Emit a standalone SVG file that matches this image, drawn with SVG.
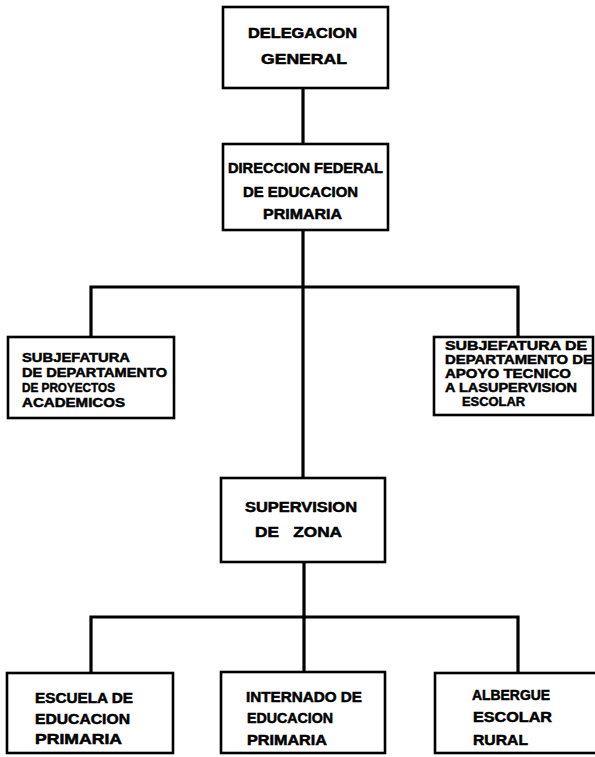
<svg xmlns="http://www.w3.org/2000/svg" width="595" height="757" viewBox="0 0 595 757">
<style>
.box{fill:#fff;stroke:#000;stroke-width:2.6}
.ln{fill:none;stroke:#000;stroke-width:3.2;stroke-linecap:square}
text{font-family:"Liberation Sans",Arial,sans-serif;font-weight:bold;font-size:14px;fill:#000;stroke:#000;stroke-width:0.5}
.sm{font-size:12px;stroke-width:0.45}
</style>
<rect width="595" height="757" fill="#fff"/>
<g id="connectors">
<path class="ln" d="M303,88 V144"/>
<path class="ln" d="M303,230 V478"/>
<path class="ln" d="M91,337 V287 H518 V337"/>
<path class="ln" d="M304,562 V672"/>
<path class="ln" d="M91,673 V617 H518 V673"/>
</g>
<g id="delegacion">
<rect class="box" x="223" y="7" width="165" height="81"/>
<text x="248" y="38" textLength="109" lengthAdjust="spacingAndGlyphs">DELEGACION</text>
<text x="261" y="64" textLength="86" lengthAdjust="spacingAndGlyphs">GENERAL</text>
</g>
<g id="direccion">
<rect class="box" x="223" y="144" width="165" height="86"/>
<text x="228" y="173" textLength="155" lengthAdjust="spacingAndGlyphs">DIRECCION FEDERAL</text>
<text x="243" y="197" textLength="115" lengthAdjust="spacingAndGlyphs">DE EDUCACION</text>
<text x="263" y="219" textLength="79" lengthAdjust="spacingAndGlyphs">PRIMARIA</text>
</g>
<g id="subjefatura-proyectos">
<rect class="box" x="8" y="337" width="166" height="81"/>
<text class="sm" x="22" y="362" textLength="108" lengthAdjust="spacingAndGlyphs">SUBJEFATURA</text>
<text class="sm" x="22" y="377" textLength="145" lengthAdjust="spacingAndGlyphs">DE DEPARTAMENTO</text>
<text class="sm" x="22" y="392" textLength="93" lengthAdjust="spacingAndGlyphs">DE PROYECTOS</text>
<text class="sm" x="22" y="407" textLength="103" lengthAdjust="spacingAndGlyphs">ACADEMICOS</text>
</g>
<g id="subjefatura-apoyo">
<rect class="box" x="434" y="337" width="159" height="78"/>
<text class="sm" x="445" y="350" textLength="142" lengthAdjust="spacingAndGlyphs">SUBJEFATURA DE</text>
<text class="sm" x="445" y="364" textLength="148" lengthAdjust="spacingAndGlyphs">DEPARTAMENTO DE</text>
<text class="sm" x="445" y="378" textLength="126" lengthAdjust="spacingAndGlyphs">APOYO TECNICO</text>
<text class="sm" x="445" y="392" textLength="132" lengthAdjust="spacingAndGlyphs">A LASUPERVISION</text>
<text class="sm" x="462" y="406" textLength="63" lengthAdjust="spacingAndGlyphs">ESCOLAR</text>
</g>
<g id="supervision">
<rect class="box" x="221" y="478" width="164" height="84"/>
<text x="245" y="512" textLength="112" lengthAdjust="spacingAndGlyphs">SUPERVISION</text>
<text x="255" y="537" textLength="87" lengthAdjust="spacingAndGlyphs" xml:space="preserve">DE   ZONA</text>
</g>
<g id="escuela">
<rect class="box" x="7" y="673" width="166" height="80"/>
<text x="35" y="703" textLength="98" lengthAdjust="spacingAndGlyphs">ESCUELA DE</text>
<text x="35" y="724" textLength="95" lengthAdjust="spacingAndGlyphs">EDUCACION</text>
<text x="35" y="744" textLength="87" lengthAdjust="spacingAndGlyphs">PRIMARIA</text>
</g>
<g id="internado">
<rect class="box" x="221" y="672" width="164" height="81"/>
<text x="246" y="702" textLength="116" lengthAdjust="spacingAndGlyphs">INTERNADO DE</text>
<text x="247" y="723" textLength="86" lengthAdjust="spacingAndGlyphs">EDUCACION</text>
<text x="247" y="745" textLength="80" lengthAdjust="spacingAndGlyphs">PRIMARIA</text>
</g>
<g id="albergue">
<rect class="box" x="435" y="673" width="162" height="80"/>
<text x="472" y="700" textLength="78" lengthAdjust="spacingAndGlyphs">ALBERGUE</text>
<text x="473" y="722" textLength="79" lengthAdjust="spacingAndGlyphs">ESCOLAR</text>
<text x="473" y="745" textLength="55" lengthAdjust="spacingAndGlyphs">RURAL</text>
</g>
</svg>
